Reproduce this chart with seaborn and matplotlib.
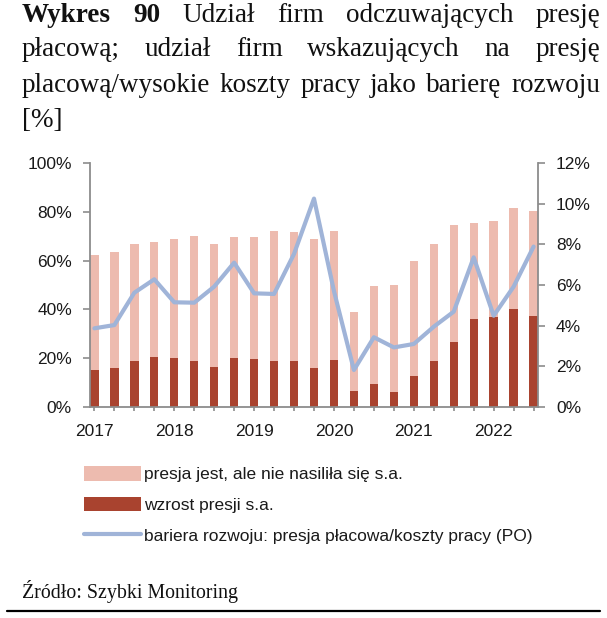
import numpy as np
import pandas as pd
import matplotlib
matplotlib.use("Agg")
import matplotlib.pyplot as plt
from matplotlib.lines import Line2D
import seaborn as sns

# ---- data ----
quarters = [f"{y}Q{q}" for y in range(2017, 2023) for q in range(1, 5)][:23]
dark_vals = [15.2, 15.8, 19.0, 20.6, 19.9, 19.0, 16.5, 20.2, 19.8, 19.0, 19.0, 16.1,
             19.3, 6.7, 9.4, 6.0, 12.7, 19.0, 26.8, 35.9, 36.8, 40.0, 37.4]
light_vals = [47.1, 47.6, 47.7, 47.2, 49.0, 51.2, 50.2, 49.6, 49.7, 53.1, 52.7, 52.8,
              53.0, 32.1, 40.2, 44.1, 47.1, 47.8, 47.7, 39.4, 39.6, 41.4, 43.1]
line_vals = [3.87, 4.03, 5.62, 6.28, 5.15, 5.13, 5.92, 7.10, 5.59, 5.56, 7.53, 10.25,
             5.7, 1.82, 3.43, 2.93, 3.10, 3.95, 4.69, 7.36, 4.49, 5.92, 7.89]
year_labels = ["2017", "2018", "2019", "2020", "2021", "2022"]
left_ticks = [0, 20, 40, 60, 80, 100]
right_ticks = [0, 2, 4, 6, 8, 10, 12]
series_labels = ["presja jest, ale nie nasiliła się s.a.", "wzrost presji s.a.",
                 "bariera rozwoju: presja płacowa/koszty pracy (PO)"]

df = pd.DataFrame({"q": quarters, "dark": dark_vals, "light": light_vals, "line": line_vals})
df["total"] = df["dark"] + df["light"]
df["pos"] = np.arange(len(df))

PINK = "#EDBBAF"
DARK = "#A9432F"
BLUE = "#A0B4D8"
AXC = "#8C8C8C"
TXT = "#1A1A1A"
FS = 12.5

sns.set_theme(style="white")
plt.rcParams["font.family"] = ["Liberation Sans", "DejaVu Sans"]

W, H = 607, 618
fig = plt.figure(figsize=(W / 100, H / 100), dpi=100)
ax = fig.add_axes([90 / W, 1 - 407 / H, (538 - 90) / W, (407 - 163) / H])

sns.barplot(data=df, x="q", y="total", color=PINK, width=0.42, ax=ax,
            saturation=1, label=series_labels[0], linewidth=0)
sns.barplot(data=df, x="q", y="dark", color=DARK, width=0.42, ax=ax,
            saturation=1, label=series_labels[1], linewidth=0)
if ax.get_legend():
    ax.get_legend().remove()

ax2 = ax.twinx()
sns.lineplot(data=df, x="pos", y="line", color=BLUE, lw=3.0, ax=ax2,
             label=series_labels[2], legend=False)

ax.set_xlim(-0.22, len(df) - 1 + 0.22)
ax.set_ylim(0, 100)
ax2.set_ylim(0, 12)
ax.set_xlabel("")
ax.set_ylabel("")
ax2.set_xlabel("")
ax2.set_ylabel("")

ax.set_yticks(left_ticks)
ax.set_yticklabels([f"{v}%" for v in left_ticks])
ax2.set_yticks(right_ticks)
ax2.set_yticklabels([f"{v}%" for v in right_ticks])
ax.set_xticks(df["pos"])
ax.set_xticklabels([year_labels[i // 4] if i % 4 == 0 else "" for i in range(len(df))])

for a in (ax, ax2):
    for s in a.spines.values():
        s.set_visible(False)
    a.grid(False)
ax.spines["left"].set_visible(True)
ax.spines["bottom"].set_visible(True)
ax2.spines["right"].set_visible(True)
for sp in (ax.spines["left"], ax.spines["bottom"], ax2.spines["right"]):
    sp.set_color(AXC)
    sp.set_linewidth(1.3)

ax.tick_params(axis="y", left=True, length=5, width=1.2, color=AXC, pad=8,
               labelsize=FS, labelcolor=TXT)
ax.tick_params(axis="x", bottom=True, length=3, width=1.2, color=AXC, pad=9,
               labelsize=FS, labelcolor=TXT)
ax2.tick_params(axis="y", right=True, length=5, width=1.2, color=AXC, pad=8,
                labelsize=FS, labelcolor=TXT)
ax.set_zorder(1)
ax2.set_zorder(2)
ax2.patch.set_visible(False)

# legend
handles = [ax.containers[0], ax.containers[1], ax2.lines[0]]
fig.legend(handles, series_labels, loc="upper left",
           bbox_to_anchor=(84 / W, 1 - 466 / H), frameon=False,
           fontsize=FS, handlelength=3.3, handleheight=0.92, handletextpad=0.15,
           labelspacing=0.83, borderpad=0, borderaxespad=0, labelcolor=TXT)

# title (justified)
renderer = fig.canvas.get_renderer()
SERIF = ["Liberation Serif", "DejaVu Serif"]
x_left, x_right = 22, 600
fs = 19.5
line3 = "placową/wysokie koszty pracy jako barierę rozwoju"

title_lines = [
    ([("Wykres", "bold"), ("90", "bold"), ("Udział", "normal"), ("firm", "normal"),
      ("odczuwających", "normal"), ("presję", "normal")], 22),
    ([("płacową;", "normal"), ("udział", "normal"), ("firm", "normal"),
      ("wskazujących", "normal"), ("na", "normal"), ("presję", "normal")], 56),
    ([(w, "normal") for w in line3.split()], 92),
]
for words, base in title_lines:
    arts = [fig.text(0, 1 - base / H, w, fontsize=fs, family=SERIF, fontweight=wt,
                     va="baseline", ha="left", color="#111111") for w, wt in words]
    widths = [a.get_window_extent(renderer).width for a in arts]
    gap = ((x_right - x_left) - sum(widths)) / (len(arts) - 1)
    x = x_left
    for a, w in zip(arts, widths):
        a.set_x(x / W)
        x += w + gap
fig.text(x_left / W, 1 - 127 / H, "[%]", fontsize=fs, family=SERIF,
         va="baseline", ha="left", color="#111111")

# source
fig.text(x_left / W, 1 - 598 / H, "Źródło: Szybki Monitoring", fontsize=14.3,
         family=SERIF, va="baseline", ha="left", color="#111111")
fig.add_artist(Line2D([7 / W, 600 / W], [1 - 611 / H, 1 - 611 / H],
                      transform=fig.transFigure, color="black", lw=1.6))

fig.savefig("out.png", dpi=100, facecolor="white")
